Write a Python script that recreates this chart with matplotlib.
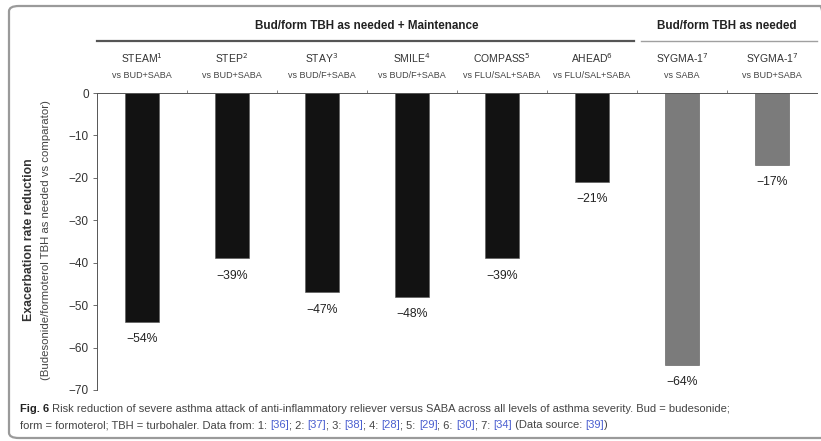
import matplotlib
matplotlib.use("Agg")
import matplotlib.pyplot as plt
from matplotlib import transforms
from matplotlib.patches import FancyBboxPatch

# data
studies = ["STEAM", "STEP", "STAY", "SMILE", "COMPASS", "AHEAD", "SYGMA-1", "SYGMA-1"]
refs = ["1", "2", "3", "4", "5", "6", "7", "7"]
comparators = ["vs BUD+SABA", "vs BUD+SABA", "vs BUD/F+SABA", "vs BUD/F+SABA",
               "vs FLU/SAL+SABA", "vs FLU/SAL+SABA", "vs SABA", "vs BUD+SABA"]
reduction = [-54, -39, -47, -48, -39, -21, -64, -17]
groups = ["maint", "maint", "maint", "maint", "maint", "maint", "prn", "prn"]
yticks = [0, -10, -20, -30, -40, -50, -60, -70]

colors = {"maint": "#121212", "prn": "#7b7b7b"}
fam = ["Liberation Sans", "DejaVu Sans"]
plt.rcParams["font.family"] = fam
plt.rcParams["mathtext.fontset"] = "dejavusans"

W, H = 821, 441
fig = plt.figure(figsize=(W / 100, H / 100), dpi=100)

def fx(px):
    return px / W

def fy(py):
    return 1 - py / H

# outer rounded frame
frame = FancyBboxPatch((fx(9), fy(438)), fx(830) - fx(9), fy(6) - fy(438),
                       boxstyle="round,pad=0,rounding_size=0.012",
                       transform=fig.transFigure, fill=False,
                       edgecolor="#9a9a9a", linewidth=1.6)
fig.patches.append(frame)

ax = fig.add_axes([fx(97), fy(390), fx(817) - fx(97), fy(93) - fy(390)])
x = list(range(len(reduction)))
ax.bar(x, reduction, width=0.38,
       color=[colors[g] for g in groups], edgecolor="#555555", linewidth=0.4)

ax.set_xlim(-0.5, 7.5)
ax.set_ylim(-70, 0)
ax.spines["bottom"].set_visible(False)
ax.spines["right"].set_visible(False)
ax.spines["top"].set_color("#555555")
ax.spines["left"].set_color("#555555")
ax.spines["top"].set_linewidth(0.7)
ax.spines["left"].set_linewidth(0.7)

ax.set_yticks(yticks)
ax.set_yticklabels(["0"] + ["\u2212%d" % -v for v in yticks[1:]], fontsize=8.5, color="#333333")
ax.tick_params(axis="y", direction="out", length=3, width=0.6, color="#555555", pad=3)
ax.xaxis.tick_top()
ax.set_xticks([i + 0.5 for i in range(7)])
ax.set_xticklabels([])
ax.tick_params(axis="x", direction="out", length=2.5, width=0.6, color="#777777")

for xi, v in zip(x, reduction):
    ax.annotate("\u2212%d%%" % -v, (xi, v), xytext=(0, -8), textcoords="offset points",
                ha="center", va="top", fontsize=8.8, color="#222222")

# column headers
tr = transforms.blended_transform_factory(ax.transData, fig.transFigure)
for xi, name, r, comp in zip(x, studies, refs, comparators):
    ax.text(xi, fy(58), name + "$^{%s}$" % r, transform=tr, ha="center", va="center",
            fontsize=7.5, color="#333333")
    ax.text(xi, fy(76), comp, transform=tr, ha="center", va="center",
            fontsize=6.5, color="#444444")

ax.text(2.5, fy(26), "Bud/form TBH as needed + Maintenance", transform=tr,
        ha="center", va="center", fontsize=8.4, fontweight="bold", color="#222222")
ax.text(6.5, fy(26), "Bud/form TBH as needed", transform=tr,
        ha="center", va="center", fontsize=8.4, fontweight="bold", color="#222222")
ax.plot([-0.5, 5.47], [fy(41), fy(41)], transform=tr, color="#555555", lw=1.6,
        clip_on=False)
ax.plot([5.54, 7.5], [fy(41), fy(41)], transform=tr, color="#a0a0a0", lw=1.0,
        clip_on=False)

# y axis title
fig.text(fx(29), fy(240), "Exacerbation rate reduction", rotation=90, ha="center",
         va="center", fontsize=8.8, fontweight="bold", color="#333333")
fig.text(fx(46), fy(240), "(Budesonide/formoterol TBH as needed vs comparator)",
         rotation=90, ha="center", va="center", fontsize=8.2, color="#444444")

# caption, drawn in pieces so the references can be blue
blue = "#4a5fd0"
grey = "#444444"
line1 = [("Fig. 6", "bold", "#222222"),
         (" Risk reduction of severe asthma attack of anti-inflammatory reliever versus SABA "
          "across all levels of asthma severity. Bud = budesonide;", "normal", grey)]
line2 = [("form = formoterol; TBH = turbohaler. Data from: 1: ", "normal", grey),
         ("[36]", "normal", blue), ("; 2: ", "normal", grey), ("[37]", "normal", blue),
         ("; 3: ", "normal", grey), ("[38]", "normal", blue), ("; 4: ", "normal", grey),
         ("[28]", "normal", blue), ("; 5: ", "normal", grey), ("[29]", "normal", blue),
         ("; 6: ", "normal", grey), ("[30]", "normal", blue), ("; 7: ", "normal", grey),
         ("[34]", "normal", blue), (" (Data source: ", "normal", grey),
         ("[39]", "normal", blue), (")", "normal", grey)]

renderer = fig.canvas.get_renderer()
for parts, ypx in [(line1, 412), (line2, 428)]:
    xpos = fx(20)
    for s, w, c in parts:
        t = fig.text(xpos, fy(ypx), s, fontsize=8.0, fontweight=w, color=c,
                     ha="left", va="baseline")
        bb = t.get_window_extent(renderer=renderer)
        xpos = fig.transFigure.inverted().transform((bb.x1, 0))[0]

fig.savefig("out.png", dpi=100)
